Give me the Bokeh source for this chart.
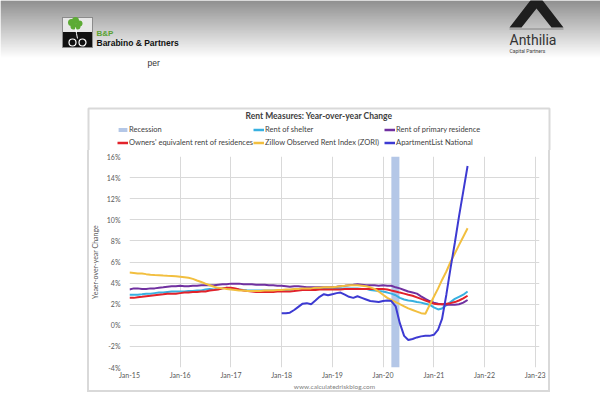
import pandas as pd
from bokeh.plotting import figure
from bokeh.models import (ColumnDataSource, Range1d, FixedTicker, PrintfTickFormatter,
                          DatetimeTickFormatter, Legend, LegendItem, Spacer)
from bokeh.layouts import column, row
from bokeh.embed import file_html
from bokeh.resources import INLINE
from bokeh.core.properties import value

# ---------------- data ----------------
chart_title = "Rent Measures: Year-over-year Change"
series_start = "2015-01-01"
series_end = "2021-09-01"
apt_start = "2018-01-01"
year_ticks = ["2015-01-01", "2016-01-01", "2017-01-01", "2018-01-01", "2019-01-01",
              "2020-01-01", "2021-01-01", "2022-01-01", "2023-01-01"]
y_ticks = [-4, -2, 0, 2, 4, 6, 8, 10, 12, 14, 16]
recession_start = ["2020-03-01"]
recession_end = ["2020-04-28"]

rent_of_shelter = [
    2.9, 2.9, 2.9, 2.95, 3.0, 3.0, 3.05, 3.1, 3.1, 3.15, 3.2, 3.2,
    3.2, 3.2, 3.25, 3.25, 3.3, 3.3, 3.4, 3.45, 3.4, 3.45, 3.5, 3.55,
    3.5, 3.45, 3.4, 3.35, 3.3, 3.3, 3.3, 3.3, 3.3, 3.3, 3.3, 3.3,
    3.3, 3.35, 3.35, 3.4, 3.4, 3.4, 3.45, 3.45, 3.5, 3.5, 3.5, 3.5,
    3.45, 3.45, 3.5, 3.5, 3.5, 3.5, 3.5, 3.45, 3.45, 3.35, 3.3, 3.25,
    3.2, 3.1, 3.0, 2.85, 2.6, 2.45, 2.35, 2.3, 2.2, 2.15, 2.05, 1.95,
    1.7, 1.5, 1.6, 1.9, 2.2, 2.5, 2.7, 2.9, 3.2]

rent_primary = [
    3.4, 3.5, 3.5, 3.45, 3.45, 3.5, 3.5, 3.55, 3.6, 3.65, 3.7, 3.7,
    3.75, 3.7, 3.7, 3.75, 3.75, 3.8, 3.8, 3.8, 3.8, 3.85, 3.9, 3.9,
    3.95, 3.95, 3.95, 3.9, 3.9, 3.9, 3.85, 3.85, 3.85, 3.8, 3.8, 3.75,
    3.75, 3.7, 3.65, 3.7, 3.7, 3.65, 3.6, 3.6, 3.6, 3.6, 3.6, 3.6,
    3.6, 3.65, 3.7, 3.75, 3.8, 3.85, 3.9, 3.85, 3.8, 3.8, 3.8, 3.75,
    3.8, 3.75, 3.75, 3.6, 3.5, 3.35, 3.2, 3.1, 3.0, 2.75, 2.5, 2.3,
    2.15, 2.05, 2.0, 1.95, 1.95, 1.95, 2.0, 2.15, 2.4]

owners_equivalent = [
    2.6, 2.6, 2.65, 2.7, 2.75, 2.8, 2.85, 2.9, 2.95, 3.0, 3.0, 3.0,
    3.05, 3.1, 3.1, 3.15, 3.15, 3.2, 3.2, 3.3, 3.35, 3.4, 3.5, 3.55,
    3.55, 3.5, 3.4, 3.3, 3.25, 3.2, 3.15, 3.15, 3.15, 3.15, 3.15, 3.2,
    3.2, 3.2, 3.2, 3.25, 3.3, 3.35, 3.35, 3.35, 3.35, 3.4, 3.4, 3.4,
    3.4, 3.4, 3.4, 3.45, 3.45, 3.45, 3.45, 3.45, 3.45, 3.45, 3.45, 3.45,
    3.45, 3.4, 3.3, 3.2, 3.1, 3.0, 2.9, 2.8, 2.65, 2.5, 2.35, 2.2,
    2.05, 2.0, 2.0, 2.05, 2.1, 2.2, 2.35, 2.55, 2.8]

zillow_zori = [
    5.0, 4.95, 4.9, 4.9, 4.85, 4.8, 4.77, 4.75, 4.72, 4.7, 4.68, 4.65,
    4.6, 4.55, 4.5, 4.4, 4.25, 4.1, 3.95, 3.8, 3.65, 3.55, 3.5, 3.45,
    3.4, 3.35, 3.3, 3.3, 3.25, 3.25, 3.25, 3.25, 3.3, 3.3, 3.3, 3.35,
    3.35, 3.4, 3.4, 3.45, 3.45, 3.5, 3.5, 3.5, 3.55, 3.55, 3.6, 3.6,
    3.6, 3.65, 3.7, 3.75, 3.8, 3.8, 3.8, 3.75, 3.7, 3.6, 3.45, 3.2,
    2.9, 2.6, 2.4, 2.2, 2.0, 1.8, 1.6, 1.45, 1.3, 1.15, 1.1, 1.9,
    2.7, 3.5, 4.3, 5.1, 6.0, 6.8, 7.6, 8.4, 9.2]

apartment_list = [
    1.15, 1.15, 1.2, 1.45, 1.75, 2.05, 2.1, 2.0, 2.35, 2.7, 2.95, 2.85,
    2.95, 3.05, 3.1, 2.9, 2.7, 2.6, 2.75, 2.6, 2.45, 2.3, 2.25, 2.2,
    2.3, 2.35, 2.3, 1.8, 0.2, -1.0, -1.4, -1.3, -1.15, -1.05, -1.0, -1.0,
    -0.9, -0.4, 0.6, 2.9, 5.4, 7.8, 10.3, 12.7, 15.1]

series_names = ["Recession", "Rent of shelter", "Rent of primary residence",
                "Owners' equivalent rent of residences", "Zillow Observed Rent Index (ZORI)",
                "ApartmentList National"]
series_colors = ["#b4c7e7", "#38b0e0", "#7030a0", "#e2222a", "#f2bf3f", "#3d3ad2"]

months = pd.date_range(series_start, series_end, freq="MS")
apt_months = pd.date_range(apt_start, series_end, freq="MS")

src = ColumnDataSource(dict(date=months, shelter=rent_of_shelter, primary=rent_primary,
                            oer=owners_equivalent, zori=zillow_zori))
apt_src = ColumnDataSource(dict(date=apt_months, apt=apartment_list))
rec_src = ColumnDataSource(dict(left=pd.to_datetime(recession_start),
                                right=pd.to_datetime(recession_end),
                                bottom=[y_ticks[0]], top=[y_ticks[-1]]))

FONT = "Lato"
GRAY = "#595959"
BOX = "#d9d9d9"

# ---------------- header: logos, chart title and legend ----------------
header = figure(width=600, height=150, x_range=Range1d(0, 600), y_range=Range1d(150, 0),
                toolbar_location=None, output_backend="svg", min_border=0,
                x_axis_location=None, y_axis_location=None)
header.grid.visible = False
header.outline_line_color = None
header.background_fill_color = "white"
header.border_fill_color = "white"

gy = list(range(0, 60))
gcol = []
for yy in gy:
    t = min(1.0, yy / 57.0)
    c = int(108 + (255 - 108) * t)
    gcol.append("#%02x%02x%02x" % (c, c, c))
header.quad(left=0, right=600, top=gy, bottom=[g + 1.05 for g in gy],
            fill_color=gcol, line_color=None)

# B&P logo
header.quad(left=[62], right=[92], top=[17], bottom=[47], fill_color="#111111",
            line_color="#8c8c8c", line_width=1)
header.quad(left=[62.5], right=[91.5], top=[17.5], bottom=[31.5], fill_color="#e8e8e8",
            line_color=None)
header.scatter(x=[71, 75, 79, 73, 77], y=[22, 20, 23, 26, 26], size=[7, 7, 6, 6, 6],
               fill_color="#5dab35", line_color=None)
header.line(x=[75, 76, 77], y=[27, 33, 38], line_color="white", line_width=1)
header.scatter(x=[72, 82], y=[42, 42], size=7, fill_color=None, line_color="white",
               line_width=1.2)
header.text(x=[96], y=[32.5], text=["B&P"], text_font=value("Liberation Sans"),
            text_font_style="bold", text_font_size="8px", text_color="#5aa332",
            text_baseline="middle")
header.text(x=[96], y=[42.5], text=["Barabino & Partners"], text_font=value("Liberation Sans"),
            text_font_style="bold", text_font_size="8.5px", text_color="#111111",
            text_baseline="middle")
header.text(x=[147], y=[62], text=["per"], text_font=value("Liberation Sans"),
            text_font_size="8.5px", text_color="#333333", text_baseline="middle")

# Anthilia logo
header.multi_polygons(xs=[[[[509, 536, 563], [521, 536, 551]]]],
                      ys=[[[[27, -8, 27], [27, 8, 27]]]],
                      fill_color="#1e1e1e", line_color=None)
header.line(x=[509, 563], y=[28.5, 28.5], line_color="#9a9a9a", line_width=1.5)
header.text(x=[509], y=[39.5], text=["Anthilia"], text_font=value("Roboto"),
            text_font_size="14px", text_color="#333333", text_baseline="middle")
header.text(x=[509], y=[50.5], text=["Capital Partners"], text_font=value("Roboto"),
            text_font_size="5px", text_color="#444444", text_baseline="middle")

# top part of the chart box, title
header.line(x=[88, 88, 549, 549], y=[150, 108, 108, 150], line_color=BOX, line_width=2)
header.text(x=[318.5], y=[115], text=[chart_title], text_font=value(FONT),
            text_font_style="bold", text_font_size="8.5px", text_color="#404040",
            text_align="center", text_baseline="middle")

# legend swatches (same styles as the chart's renderers, placed off-view)
leg_r = [header.quad(left=[-60], right=[-50], top=[-60], bottom=[-50],
                     fill_color=series_colors[0], line_color=None)]
for c in series_colors[1:]:
    leg_r.append(header.line(x=[-60, -50], y=[-60, -60], line_color=c, line_width=2.5))
legend = Legend(items=[LegendItem(label=n, renderers=[r]) for n, r in zip(series_names, leg_r)],
                orientation="horizontal", ncols=3, location=(117, 1))
legend.label_text_font = FONT
legend.label_text_font_size = "7.5px"
legend.label_text_color = "#404040"
legend.glyph_width = 11
legend.glyph_height = 5
legend.label_height = 13
legend.label_width = 119
legend.label_standoff = 1
legend.spacing = 0
legend.padding = 0
legend.margin = 0
legend.border_line_color = None
legend.background_fill_alpha = 0
header.add_layout(legend)

# ---------------- chart ----------------
x0 = pd.Timestamp(year_ticks[0])
x1 = pd.Timestamp(year_ticks[-1]) + pd.Timedelta(days=31)
p = figure(width=463, height=242, x_axis_type="datetime",
           x_range=Range1d(x0, x1), y_range=Range1d(y_ticks[0], y_ticks[-1]),
           toolbar_location=None, output_backend="svg", title_location=None,
           min_border_left=35, min_border_right=11, min_border_top=6, min_border_bottom=24)
p.styles = {"box-shadow": "inset 2px 0 0 %s, inset -2px 0 0 %s, inset 0 -2px 0 %s" % (BOX, BOX, BOX)}
p.outline_line_color = None
p.background_fill_color = "white"
p.border_fill_color = None

r_rec = p.quad(left="left", right="right", bottom="bottom", top="top", source=rec_src,
               fill_color=series_colors[0], line_color=None)
r_sh = p.line("date", "shelter", source=src, line_color=series_colors[1], line_width=2)
r_pr = p.line("date", "primary", source=src, line_color=series_colors[2], line_width=2)
r_oe = p.line("date", "oer", source=src, line_color=series_colors[3], line_width=2)
r_zo = p.line("date", "zori", source=src, line_color=series_colors[4], line_width=2)
r_ap = p.line("date", "apt", source=apt_src, line_color=series_colors[5], line_width=2)

tick_ms = [pd.Timestamp(t).value // 10**6 for t in year_ticks]
p.xaxis.ticker = FixedTicker(ticks=tick_ms)
p.xgrid.ticker = FixedTicker(ticks=tick_ms)
p.xaxis.formatter = DatetimeTickFormatter(years="%b-%y", months="%b-%y", days="%b-%y")
p.yaxis.ticker = FixedTicker(ticks=y_ticks)
p.ygrid.ticker = FixedTicker(ticks=y_ticks)
p.yaxis.formatter = PrintfTickFormatter(format="%d%%")

for g in (p.xgrid, p.ygrid):
    g.grid_line_color = "#d9d9d9"
    g.grid_line_width = 1

p.axis.axis_line_color = None
p.axis.major_tick_line_color = None
p.axis.minor_tick_line_color = None
p.axis.major_tick_out = 0
p.axis.major_tick_in = 0
p.axis.minor_tick_out = 0
p.axis.minor_tick_in = 0
p.axis.major_label_text_font = FONT
p.axis.major_label_text_font_size = "7px"
p.axis.major_label_text_color = GRAY
p.xaxis.major_label_standoff = 3
p.yaxis.major_label_standoff = 9

p.yaxis.axis_label = "Yeaer-over-year Change"
p.yaxis.axis_label_text_font = FONT
p.yaxis.axis_label_text_font_size = "7px"
p.yaxis.axis_label_text_font_style = "normal"
p.yaxis.axis_label_text_color = GRAY
p.yaxis.axis_label_standoff = 5

p.xaxis.axis_label = "www.calculatedriskblog.com"
p.xaxis.axis_label_text_font = FONT
p.xaxis.axis_label_text_font_size = "6.5px"
p.xaxis.axis_label_text_font_style = "normal"
p.xaxis.axis_label_text_color = "#7f7f7f"
p.xaxis.axis_label_standoff = 1

layout = column(header, row(Spacer(width=87, height=242), p))

open("out.html", "w").write(file_html(layout, INLINE))
